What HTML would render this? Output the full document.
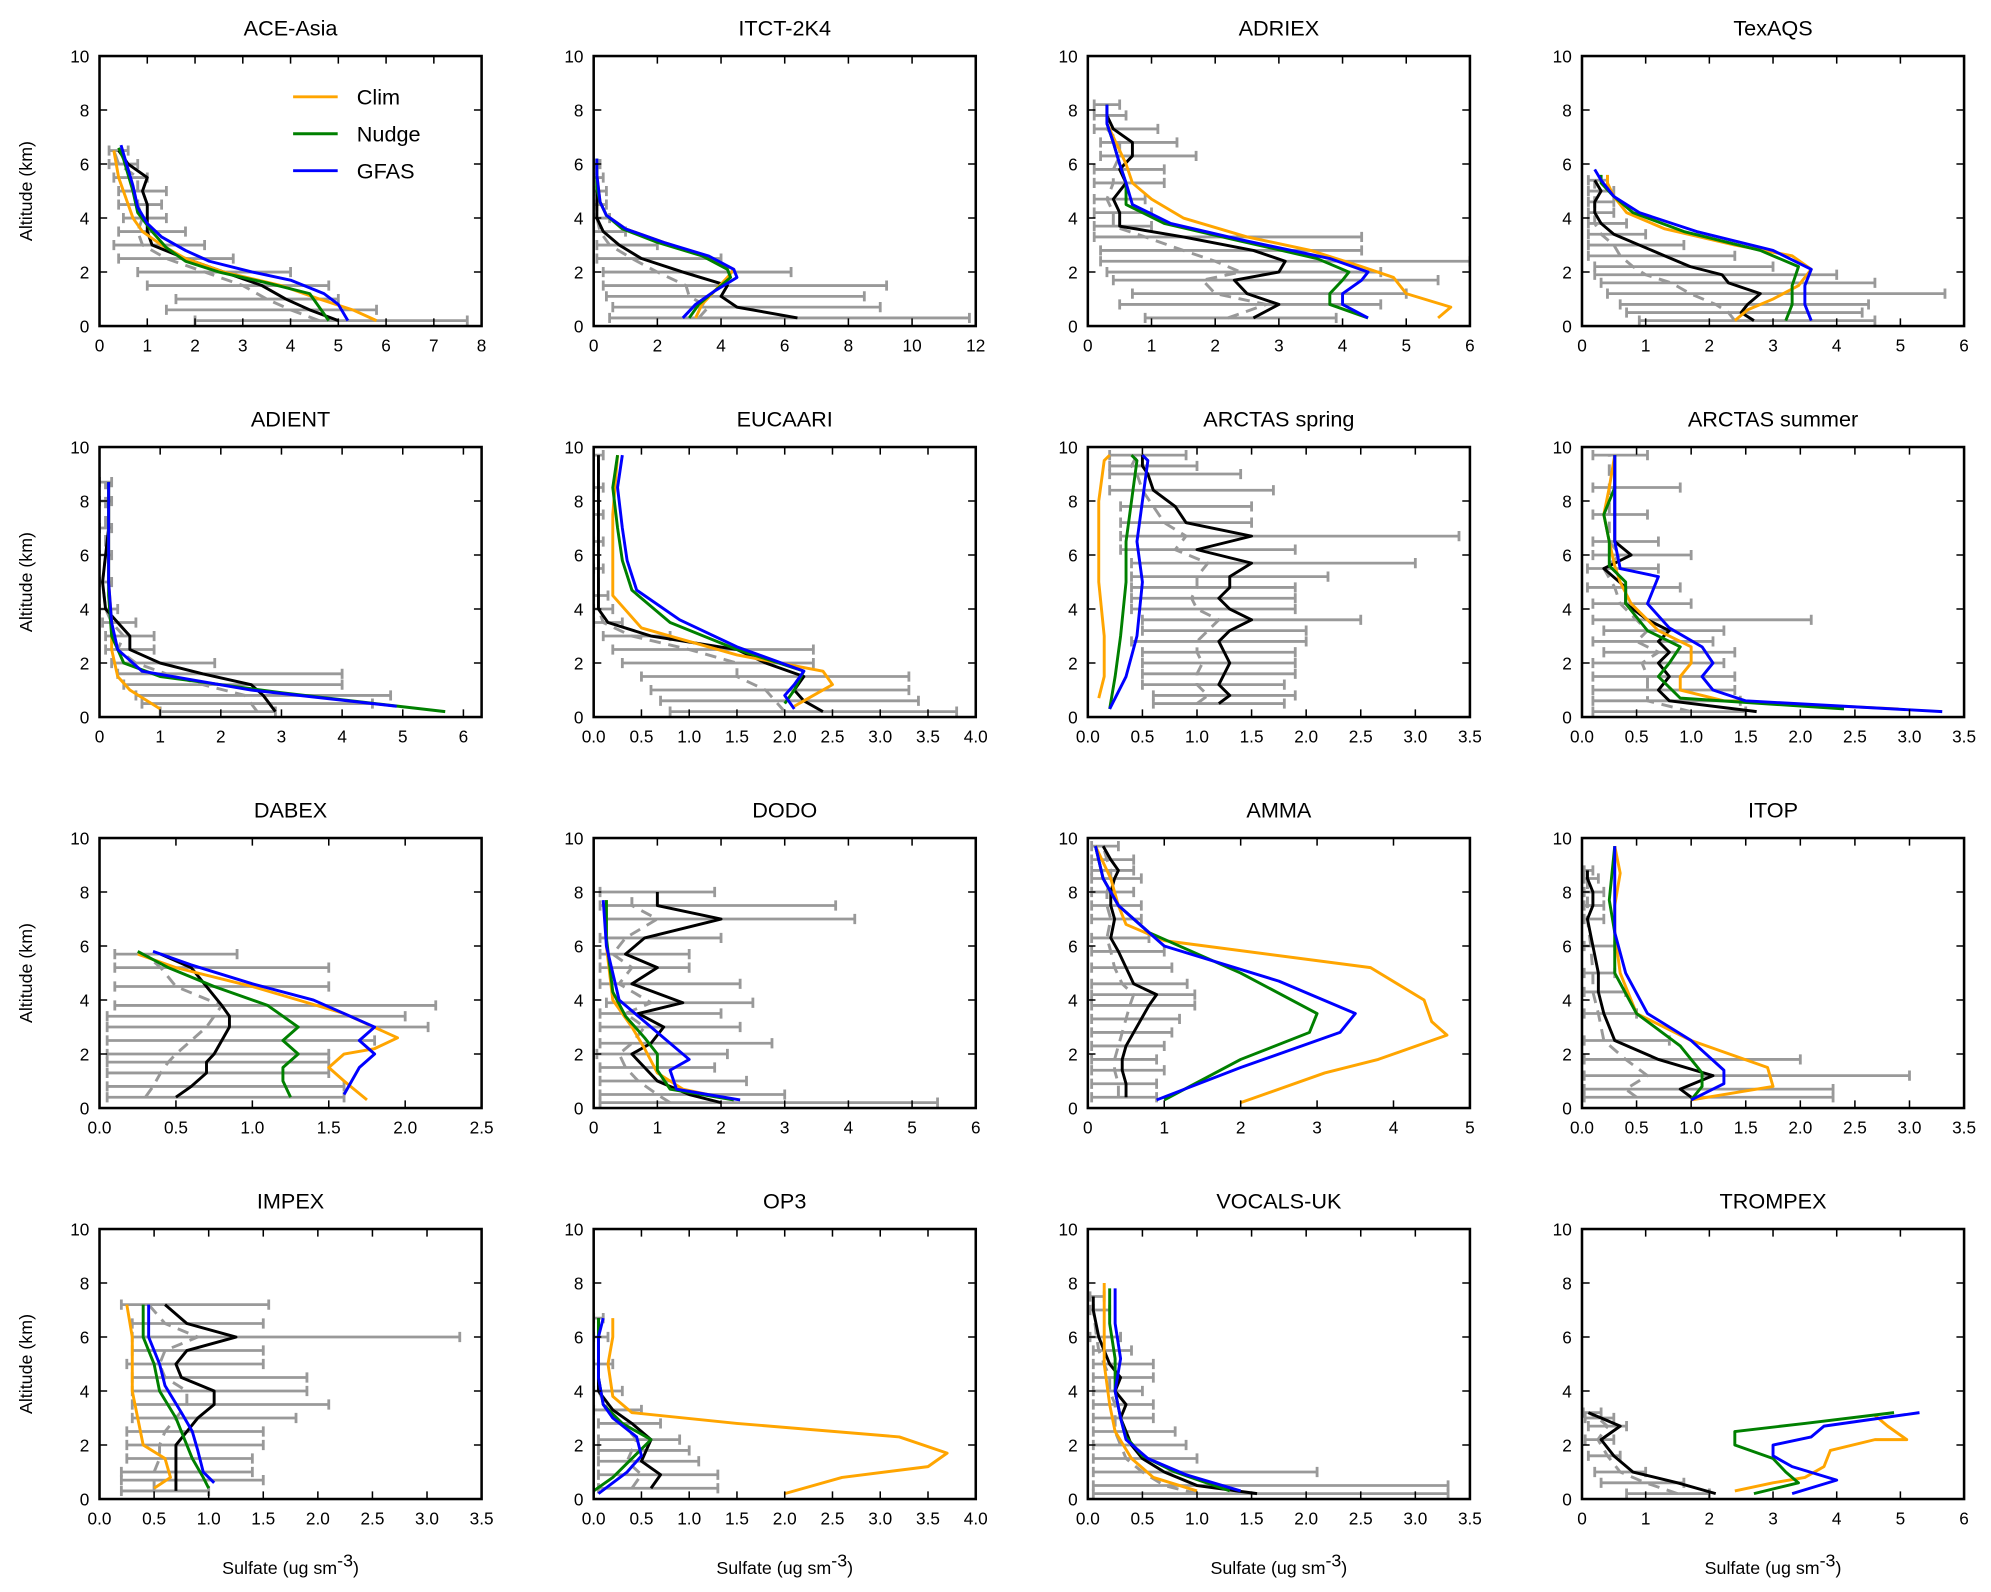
<!DOCTYPE html>
<html><head><meta charset="utf-8"><style>
html,body{margin:0;padding:0;background:#fff;}
svg{display:block;font-family:"Liberation Sans","DejaVu Sans",sans-serif;}
</style></head><body>
<svg id="chart" xmlns="http://www.w3.org/2000/svg" width="1991" height="1592" viewBox="0 0 1563 1250"></svg>
<script>
// ---- data (x = sulfate ug sm-3, alt = km) ----
const titles=["ACE-Asia","ITCT-2K4","ADRIEX","TexAQS","ADIENT","EUCAARI","ARCTAS spring","ARCTAS summer","DABEX","DODO","AMMA","ITOP","IMPEX","OP3","VOCALS-UK","TROMPEX"];
const xMaxes=[8,12,6,6,6.3,4,3.5,3.5,2.5,6,5,3.5,3.5,4,3.5,6];
const xTickSteps=[1,2,1,1,1,0.5,0.5,0.5,0.5,1,1,0.5,0.5,0.5,0.5,1];

const obsAlt=[
[0.2,0.6,1.0,1.5,2.0,2.5,3.0,3.5,4.0,4.5,5.0,5.5,6.0,6.5],
[0.3,0.7,1.1,1.5,2.0,2.5,3.0,3.5,4.0,4.5,5.0,5.5,6.0],
[0.3,0.8,1.2,1.7,2.0,2.4,2.8,3.3,3.7,4.2,4.7,5.3,5.8,6.3,6.8,7.3,7.8,8.2],
[0.2,0.5,0.8,1.2,1.6,1.9,2.2,2.6,3.0,3.4,3.8,4.2,4.6,5.0,5.4],
[0.2,0.5,0.8,1.2,1.6,2.0,2.5,3.0,3.5,4.0,5.0,6.0,7.0,8.0,8.7],
[0.2,0.6,1.0,1.5,2.0,2.5,3.0,3.5,4.0,4.5,5.5,6.5,7.5,8.5,9.7],
[0.5,0.8,1.2,1.6,2.0,2.4,2.8,3.2,3.6,4.0,4.4,4.8,5.2,5.7,6.2,6.7,7.2,7.8,8.4,9.0,9.3,9.7],
[0.2,0.6,1.0,1.5,2.0,2.4,2.8,3.2,3.6,4.2,4.8,5.5,6.0,6.5,7.5,8.5,9.7],
[0.4,0.8,1.3,1.7,2.0,2.5,3.0,3.4,3.8,4.5,5.2,5.7],
[0.2,0.5,1.0,1.5,2.0,2.4,3.0,3.5,3.9,4.6,5.2,5.7,6.3,7.0,7.5,8.0],
[0.4,0.9,1.4,1.8,2.3,2.8,3.3,3.8,4.2,4.6,5.2,5.8,6.3,7.0,7.5,8.0,8.5,8.8,9.2,9.7],
[0.4,0.7,1.2,1.8,2.5,3.5,4.3,5.0,6.0,7.0,7.5,8.0,8.5,8.8],
[0.3,0.7,1.0,1.5,2.0,2.5,3.0,3.5,4.0,4.5,5.0,5.5,6.0,6.5,7.2],
[0.4,0.9,1.4,1.8,2.2,2.8,3.3,4.0,5.0,6.0,6.7],
[0.2,0.5,1.0,1.5,2.0,2.5,3.0,3.5,4.0,4.5,5.0,5.5,6.0,7.0,7.5],
[0.2,0.6,1.0,1.6,2.2,2.7,3.0,3.2]];
const obsMean=[
[5.0,4.4,3.9,3.4,2.6,1.8,1.1,1.0,1.0,1.0,0.9,1.0,0.6,0.4],
[6.4,4.5,4.0,4.2,2.8,1.5,0.8,0.3,0.1,0.1,0.1,0.1,0.1],
[2.6,3.0,2.5,2.3,3.0,3.1,2.6,1.5,0.5,0.5,0.4,0.6,0.5,0.7,0.7,0.4,0.3,0.3],
[2.7,2.5,2.6,2.8,2.3,2.2,1.7,1.3,0.9,0.5,0.3,0.2,0.2,0.3,0.2],
[2.9,2.8,2.7,2.5,1.7,1.0,0.5,0.5,0.3,0.1,0.05,0.1,0.15,0.15,0.15],
[2.4,2.2,2.1,2.2,1.8,1.5,0.6,0.15,0.05,0.05,0.05,0.05,0.05,0.05,0.05],
[1.2,1.3,1.2,1.25,1.3,1.25,1.2,1.3,1.5,1.3,1.2,1.3,1.3,1.5,1.0,1.5,0.9,0.8,0.6,0.55,0.5,0.5],
[1.6,0.8,0.7,0.8,0.7,0.8,0.7,0.8,0.6,0.4,0.4,0.2,0.45,0.3,0.3,0.3,0.3],
[0.5,0.6,0.7,0.7,0.75,0.8,0.85,0.85,0.8,0.7,0.6,0.4],
[2.0,1.5,1.0,0.8,0.6,0.9,1.1,0.7,1.4,0.6,1.0,0.5,0.8,2.0,1.0,1.0],
[0.5,0.5,0.45,0.45,0.5,0.6,0.7,0.8,0.9,0.6,0.5,0.4,0.3,0.35,0.3,0.3,0.35,0.4,0.3,0.2],
[1.0,0.9,1.2,0.7,0.3,0.2,0.15,0.15,0.1,0.05,0.1,0.1,0.05,0.05],
[0.7,0.7,0.7,0.7,0.7,0.8,0.9,1.05,1.05,0.75,0.7,0.8,1.25,0.8,0.6],
[0.6,0.7,0.5,0.55,0.6,0.4,0.2,0.05,0.05,0.05,0.05],
[1.55,1.0,0.7,0.5,0.4,0.35,0.3,0.35,0.25,0.3,0.2,0.15,0.1,0.05,0.05],
[2.1,1.5,0.8,0.5,0.3,0.6,0.3,0.1]];
const obsMedian=[
[4.6,4.0,3.5,3.0,2.2,1.4,0.9,0.8,0.9,0.8,0.8,0.8,0.4,0.3],
[3.3,3.6,3.0,2.9,2.0,1.2,0.5,0.2,0.1,0.1,0.1,0.1,0.1],
[2.2,2.8,2.0,1.8,2.4,2.0,1.5,0.9,0.4,0.4,0.3,0.4,0.4,0.5,0.5,0.3,0.3,0.3],
[2.4,2.3,2.1,1.7,1.4,1.0,0.8,0.6,0.5,0.3,0.2,0.2,0.2,0.2,0.2],
[2.6,2.5,2.4,1.7,1.1,0.6,0.3,0.4,0.2,0.1,0.05,0.1,0.1,0.1,0.1],
[2.0,1.9,1.8,1.5,1.5,1.0,0.4,0.1,0.05,0.05,0.05,0.05,0.05,0.05,0.05],
[1.0,1.1,1.0,1.0,1.05,1.0,1.0,1.1,1.2,1.0,0.95,1.0,1.0,1.1,0.8,0.9,0.7,0.6,0.5,0.45,0.4,0.45],
[1.0,0.6,0.6,0.6,0.55,0.7,0.5,0.6,0.5,0.35,0.3,0.2,0.35,0.25,0.25,0.25,0.25],
[0.3,0.35,0.4,0.45,0.5,0.6,0.7,0.75,0.8,0.5,0.4,0.3],
[1.2,1.0,0.7,0.5,0.4,0.6,0.8,0.5,0.9,0.4,0.6,0.3,0.5,1.0,0.6,0.6],
[0.4,0.4,0.35,0.35,0.4,0.45,0.5,0.55,0.6,0.45,0.35,0.3,0.25,0.3,0.25,0.25,0.3,0.3,0.25,0.2],
[0.5,0.4,0.6,0.4,0.2,0.15,0.1,0.1,0.08,0.05,0.05,0.05,0.05,0.05],
[0.5,0.5,0.5,0.55,0.55,0.6,0.7,0.8,0.8,0.6,0.55,0.6,0.9,0.6,0.45],
[0.4,0.5,0.35,0.4,0.45,0.3,0.15,0.05,0.05,0.05,0.05],
[1.0,0.7,0.5,0.35,0.3,0.25,0.25,0.25,0.2,0.2,0.15,0.1,0.08,0.05,0.05],
[1.5,1.0,0.6,0.4,0.25,0.4,0.25,0.1]];
const obsLo=[
[2.0,1.4,1.6,1.0,0.8,0.4,0.3,0.4,0.5,0.4,0.4,0.3,0.2,0.2],
[0.5,0.6,0.4,0.3,0.3,0.1,0.1,0,0,0,0,0,0],
[0.9,0.5,0.7,0.4,0.3,0.2,0.2,0.1,0.1,0.1,0.1,0.1,0.1,0.2,0.2,0.1,0.1,0.1],
[0.9,0.7,0.6,0.4,0.3,0.2,0.2,0.1,0.1,0.1,0.1,0.1,0.1,0.1,0.1],
[1.0,0.7,0.6,0.4,0.3,0.2,0.1,0.1,0.05,0,0,0,0,0,0],
[0.8,0.7,0.6,0.5,0.3,0.2,0.1,0,0,0,0,0,0,0,0],
[0.6,0.6,0.5,0.5,0.5,0.5,0.4,0.5,0.5,0.4,0.4,0.4,0.4,0.4,0.3,0.3,0.3,0.3,0.2,0.2,0.2,0.2],
[0.1,0.1,0.1,0.1,0.1,0.2,0.1,0.2,0.1,0.1,0.05,0.05,0.1,0.1,0.1,0.1,0.1],
[0.05,0.05,0.05,0.05,0.05,0.05,0.05,0.05,0.1,0.1,0.1,0.1],
[0.1,0.1,0.1,0.1,0.05,0.1,0.1,0.1,0.2,0.1,0.1,0.1,0.1,0.2,0.1,0.1],
[0.05,0.05,0.05,0.05,0.05,0.05,0.05,0.05,0.05,0.05,0.05,0.05,0.05,0.05,0.05,0.05,0.05,0.05,0.05,0.05],
[0.02,0.02,0.02,0.02,0.02,0.02,0.02,0.02,0.02,0.02,0.02,0.02,0.02,0.02],
[0.2,0.2,0.2,0.25,0.25,0.25,0.3,0.3,0.3,0.3,0.25,0.3,0.3,0.3,0.2],
[0.05,0.05,0.05,0.05,0.05,0.05,0,0,0,0,0],
[0.05,0.05,0.05,0.05,0.05,0.05,0.05,0.05,0.05,0.05,0.05,0.05,0.02,0.02,0.02],
[0.7,0.3,0.2,0.1,0.05,0.1,0.05,0.02]];
const obsHi=[
[7.7,5.8,5.0,4.8,4.0,2.8,2.2,1.8,1.4,1.3,1.4,1.0,0.8,0.6],
[11.8,9.0,8.5,9.2,6.2,4.0,2.0,1.0,0.5,0.4,0.4,0.3,0.2],
[3.9,4.6,5.0,5.5,4.6,6.0,4.3,4.3,1.0,1.0,0.9,1.2,1.2,1.7,1.4,1.1,0.6,0.5],
[4.6,4.4,4.5,5.7,4.6,4.0,3.0,2.4,1.6,1.0,0.7,0.5,0.5,0.5,0.4],
[2.9,4.5,4.8,4.0,4.0,1.9,0.9,0.9,0.6,0.3,0.2,0.2,0.2,0.2,0.2],
[3.8,3.4,3.3,3.3,2.3,2.3,0.8,0.3,0.2,0.15,0.1,0.1,0.1,0.1,0.1],
[1.8,1.9,1.8,1.9,1.9,1.9,2.0,2.0,2.5,1.9,1.9,1.9,2.2,3.0,1.9,3.4,1.5,1.5,1.7,1.4,1.0,0.9],
[1.5,1.45,1.4,1.4,1.3,1.4,1.2,1.3,2.1,1.0,0.9,0.7,1.0,0.7,0.6,0.9,0.6],
[1.6,1.6,1.5,1.5,1.5,1.8,2.15,2.0,2.2,1.5,1.5,0.9],
[5.4,3.0,2.4,1.9,2.1,2.8,2.3,2.0,2.5,2.3,1.5,1.5,2.0,4.1,3.8,1.9],
[0.9,0.9,1.0,0.9,1.0,1.1,1.2,1.4,1.4,1.3,1.1,1.0,0.8,0.7,0.7,0.6,0.7,0.6,0.6,0.4],
[2.3,2.3,3.0,2.0,0.8,0.5,0.4,0.3,0.3,0.2,0.2,0.2,0.15,0.1],
[1.0,1.5,1.4,1.4,1.5,1.5,1.8,2.1,1.9,1.9,1.5,1.5,3.3,1.5,1.55],
[1.3,1.3,1.1,1.0,0.9,0.7,0.5,0.3,0.2,0.15,0.1],
[3.3,3.3,2.1,1.0,0.9,0.8,0.6,0.6,0.5,0.6,0.6,0.4,0.3,0.2,0.15],
[2.0,1.6,1.0,0.6,0.5,0.7,0.5,0.3]];
// model series as [sulfate, altitude] pairs
const climSeries=[
[[5.8,0.2],[5.3,0.6],[4.6,1.0],[3.8,1.5],[2.6,2.0],[1.8,2.5],[1.3,3.0],[0.9,3.5],[0.7,4.0],[0.6,4.5],[0.5,5.0],[0.4,5.5],[0.35,6.0],[0.3,6.5]],
[[3.2,0.3],[3.4,0.8],[3.8,1.3],[4.2,1.8],[4.4,2.1],[3.5,2.6],[2.2,3.1],[1.0,3.6],[0.4,4.1],[0.2,4.6],[0.15,5.1],[0.1,5.6],[0.1,6.2]],
[[5.5,0.3],[5.7,0.7],[5.0,1.2],[4.8,1.8],[4.3,2.2],[3.5,2.8],[2.5,3.3],[1.5,4.0],[1.0,4.7],[0.7,5.3],[0.6,6.0],[0.4,7.0],[0.3,7.5],[0.3,8.2]],
[[2.4,0.2],[2.6,0.6],[3.0,1.0],[3.4,1.5],[3.6,2.1],[3.3,2.6],[2.4,3.0],[1.3,3.6],[0.7,4.2],[0.5,4.8],[0.4,5.3],[0.4,5.6]],
[[1.0,0.3],[0.5,1.0],[0.3,1.5],[0.2,2.5],[0.2,3.5],[0.15,5],[0.15,7],[0.15,8.7]],
[[2.1,0.4],[2.3,0.8],[2.5,1.2],[2.4,1.7],[1.5,2.3],[0.5,3.3],[0.2,4.5],[0.2,6],[0.2,7.5],[0.25,9.7]],
[[0.1,0.7],[0.15,1.5],[0.15,3],[0.1,5],[0.1,6.5],[0.1,8],[0.15,9.5],[0.2,9.7]],
[[2.9,0.3],[1.3,0.6],[0.9,1.0],[0.9,1.5],[1.0,2.0],[1.0,2.6],[0.7,3.2],[0.45,4.2],[0.35,5],[0.3,5.6],[0.25,6.5],[0.2,7.5],[0.25,8.5],[0.3,9.7]],
[[1.75,0.3],[1.6,1.0],[1.5,1.5],[1.6,2.0],[1.8,2.2],[1.95,2.6],[1.6,3.5],[1.0,4.5],[0.5,5.2],[0.25,5.7]],
[[2.2,0.3],[1.4,0.7],[1.0,1.3],[0.8,2.2],[0.6,3.0],[0.3,4.0],[0.25,5.0],[0.2,6.0],[0.2,7.0],[0.2,7.7]],
[[2.0,0.2],[3.1,1.3],[3.8,1.8],[4.7,2.7],[4.5,3.2],[4.4,4.0],[3.7,5.2],[1.0,6.2],[0.5,6.8],[0.4,7.5],[0.3,8.5],[0.1,9.7]],
[[1.0,0.3],[1.75,0.8],[1.7,1.5],[1.0,2.5],[0.5,3.5],[0.35,5],[0.3,6.5],[0.3,7.5],[0.35,8.7],[0.3,9.7]],
[[0.5,0.4],[0.65,0.8],[0.6,1.5],[0.4,2.0],[0.35,3],[0.3,4],[0.3,5],[0.3,6],[0.25,7.2]],
[[2.0,0.2],[2.6,0.8],[3.5,1.2],[3.7,1.7],[3.2,2.3],[1.5,2.8],[0.4,3.2],[0.2,3.8],[0.15,5],[0.2,6],[0.2,6.7]],
[[1.0,0.3],[0.6,0.8],[0.4,1.5],[0.25,2.5],[0.2,3.5],[0.15,5],[0.15,6.5],[0.15,8.0]],
[[2.4,0.3],[3.0,0.6],[3.5,0.8],[3.8,1.2],[3.9,1.8],[4.6,2.2],[5.1,2.2],[4.8,2.7],[4.6,3.1]]];
const nudgeSeries=[
[[4.8,0.2],[4.6,0.7],[4.4,1.2],[3.5,1.6],[2.5,2.0],[1.8,2.4],[1.4,2.9],[1.1,3.5],[0.8,4.2],[0.7,5.0],[0.6,5.6],[0.5,6.2],[0.4,6.6]],
[[3.0,0.3],[3.3,0.8],[3.8,1.3],[4.3,1.8],[4.2,2.1],[3.4,2.6],[2.0,3.1],[0.9,3.6],[0.4,4.1],[0.2,4.6],[0.1,5.1],[0.1,5.6],[0.1,6.2]],
[[4.4,0.3],[3.8,0.8],[3.8,1.2],[4.0,1.7],[4.1,2.0],[3.6,2.5],[2.3,3.2],[1.2,3.8],[0.6,4.5],[0.6,5.3],[0.5,6.0],[0.4,6.8],[0.3,7.5],[0.3,8.2]],
[[3.2,0.2],[3.3,0.8],[3.3,1.5],[3.4,2.2],[2.8,2.8],[1.6,3.5],[0.8,4.2],[0.5,4.8],[0.3,5.3],[0.3,5.6]],
[[5.7,0.2],[3.0,0.9],[1.0,1.5],[0.4,2.0],[0.2,3],[0.15,4.5],[0.15,6],[0.15,8.7]],
[[2.0,0.5],[2.1,1.0],[2.2,1.7],[1.5,2.5],[0.8,3.5],[0.4,4.7],[0.3,5.8],[0.25,7],[0.2,8.5],[0.25,9.7]],
[[0.2,0.3],[0.25,1.5],[0.3,3],[0.35,5],[0.35,6.5],[0.4,8],[0.45,9.5],[0.4,9.7]],
[[2.4,0.3],[0.9,0.7],[0.7,1.5],[0.8,2.0],[0.9,2.6],[0.6,3.2],[0.4,4.2],[0.4,5.0],[0.25,5.6],[0.25,6.5],[0.2,7.5],[0.3,8.5],[0.3,9.7]],
[[1.25,0.4],[1.2,1.0],[1.2,1.5],[1.3,2.0],[1.2,2.5],[1.3,3.0],[1.1,3.8],[0.75,4.5],[0.45,5.2],[0.25,5.8]],
[[2.2,0.3],[1.2,0.7],[1.0,1.4],[1.0,2.0],[0.8,2.6],[0.5,3.4],[0.3,4.3],[0.25,5.3],[0.2,6.3],[0.2,7.7]],
[[1.0,0.3],[2.0,1.8],[2.9,2.8],[3.0,3.5],[2.0,5.0],[0.8,6.5],[0.4,7.5],[0.2,8.5],[0.1,9.7]],
[[1.0,0.3],[1.1,0.8],[1.1,1.3],[0.9,2.3],[0.5,3.5],[0.3,5],[0.3,6.5],[0.25,7.7],[0.3,9.7]],
[[1.0,0.4],[0.95,0.8],[0.85,1.5],[0.8,2.0],[0.7,3.0],[0.55,4],[0.5,5],[0.4,6],[0.4,7.2]],
[[0.0,0.3],[0.2,0.8],[0.4,1.5],[0.6,2.2],[0.3,2.8],[0.1,3.5],[0.05,4.5],[0.05,6],[0.05,6.7]],
[[1.3,0.3],[0.8,1.0],[0.5,1.6],[0.35,2.3],[0.3,3.0],[0.25,4.0],[0.25,5.2],[0.2,6.5],[0.2,7.8]],
[[2.7,0.2],[3.4,0.6],[3.2,1.0],[3.0,1.5],[2.4,2.0],[2.4,2.5],[3.5,2.8],[4.9,3.2]]];
const gfasSeries=[
[[5.2,0.2],[5.0,0.8],[4.7,1.2],[4.0,1.7],[3.2,2.0],[2.3,2.4],[1.8,2.8],[1.3,3.3],[1.0,3.8],[0.8,4.4],[0.7,5.2],[0.6,5.8],[0.5,6.4],[0.45,6.7]],
[[2.8,0.3],[3.2,0.8],[3.8,1.3],[4.5,1.8],[4.4,2.1],[3.6,2.6],[2.2,3.1],[1.0,3.6],[0.4,4.1],[0.2,4.6],[0.15,5.1],[0.1,5.6],[0.1,6.2]],
[[4.4,0.3],[4.0,0.8],[4.0,1.2],[4.3,1.7],[4.4,2.0],[3.8,2.5],[2.4,3.2],[1.3,3.8],[0.7,4.5],[0.6,5.3],[0.5,6.0],[0.4,6.8],[0.3,7.5],[0.3,8.2]],
[[3.6,0.2],[3.5,0.8],[3.5,1.5],[3.6,2.1],[3.0,2.8],[1.8,3.5],[0.9,4.2],[0.5,4.8],[0.3,5.4],[0.2,5.8]],
[[4.9,0.4],[2.5,1.0],[0.7,1.7],[0.3,2.5],[0.2,3.5],[0.15,5],[0.15,7],[0.15,8.7]],
[[2.1,0.3],[2.0,0.8],[2.1,1.2],[2.2,1.7],[1.5,2.6],[0.9,3.6],[0.45,4.7],[0.35,5.8],[0.3,7],[0.25,8.5],[0.3,9.7]],
[[0.2,0.3],[0.35,1.5],[0.45,3],[0.5,5],[0.45,6.5],[0.5,8],[0.55,9.5],[0.5,9.7]],
[[3.3,0.2],[1.5,0.6],[1.2,1.0],[1.1,1.5],[1.2,2.0],[1.1,2.6],[0.8,3.3],[0.6,4.2],[0.7,5.2],[0.35,5.5],[0.3,6.5],[0.3,7.5],[0.3,8.5],[0.3,9.7]],
[[1.6,0.5],[1.65,1.0],[1.7,1.5],[1.8,2.0],[1.7,2.5],[1.8,3.0],[1.4,4.0],[1.0,4.6],[0.6,5.3],[0.35,5.8]],
[[2.3,0.3],[1.3,0.7],[1.2,1.4],[1.5,1.8],[1.2,2.4],[0.8,3.2],[0.4,4.0],[0.3,5.0],[0.2,6.0],[0.15,7.7]],
[[0.9,0.3],[2.0,1.5],[3.3,2.8],[3.5,3.5],[2.5,4.7],[1.0,6.0],[0.4,7.5],[0.2,8.5],[0.1,9.7]],
[[1.0,0.3],[1.3,0.9],[1.3,1.4],[1.0,2.5],[0.6,3.5],[0.4,5],[0.3,6.5],[0.3,7.7],[0.3,9.7]],
[[1.05,0.6],[0.95,1.0],[0.9,1.8],[0.85,2.5],[0.75,3.2],[0.6,4.2],[0.55,5],[0.45,6],[0.45,7.2]],
[[0.05,0.2],[0.35,1.0],[0.5,1.6],[0.45,2.3],[0.2,3.0],[0.1,3.5],[0.05,4.5],[0.05,6],[0.1,6.7]],
[[1.4,0.3],[0.9,0.9],[0.55,1.5],[0.35,2.2],[0.3,3.0],[0.25,4.0],[0.3,5.2],[0.25,6.5],[0.25,7.8]],
[[3.3,0.2],[4.0,0.7],[3.3,1.2],[3.0,1.6],[3.0,2.0],[3.6,2.3],[3.8,2.7],[5.3,3.2]]];
const yTicks=[0,2,4,6,8,10];

// ---- drawing ----
const NS="http://www.w3.org/2000/svg";
const svg=document.getElementById('chart');
function mk(tag,attrs,parent){const e=document.createElementNS(NS,tag);for(const k in attrs)e.setAttribute(k,attrs[k]);(parent||svg).appendChild(e);return e;}
const colLeft=[78,466,854,1242], rowTop=[44,351,658,965], PW=300, PH=212;
const slug=s=>s.toLowerCase().replace(/[^a-z0-9]+/g,'-').replace(/-$/,'');
titles.forEach((t,i)=>{
  const L=colLeft[i%4], T=rowTop[Math.floor(i/4)], xm=xMaxes[i];
  const sx=v=>L+v/xm*PW, sy=a=>T+PH-a/10*PH;
  const g=mk('g',{});
  
  
  const clip='clip'+i;
  const cp=mk('clipPath',{id:clip},g); mk('rect',{x:L,y:T,width:PW,height:PH},cp);
  const data=mk('g',{'clip-path':'url(#'+clip+')'},g);
  // error bars
  obsAlt[i].forEach((a,j)=>{
    const y=sy(a), x1=sx(obsLo[i][j]), x2=sx(obsHi[i][j]);
    const e=mk('path',{d:`M${x1},${y}H${x2}M${x1},${y-4}V${y+4}M${x2},${y-4}V${y+4}`,stroke:'#999',"stroke-width":2.2,fill:'none'},data);
    
    
  });
  const line=(pts,color,name,dash)=>{
    const p=mk('polyline',{points:pts.map(q=>sx(q[0])+','+sy(q[1])).join(' '),fill:'none',stroke:color,'stroke-width':2.3,'stroke-linejoin':'round'},data);
    if(dash)p.setAttribute('stroke-dasharray',dash);
    
    
  };
  line(obsAlt[i].map((a,j)=>[obsMedian[i][j],a]),'#999','obs-median-line','9,6');
  line(obsAlt[i].map((a,j)=>[obsMean[i][j],a]),'#000','obs-mean-line');
  line(climSeries[i],'#FFA500','clim-line');
  line(nudgeSeries[i],'#008000','nudge-line');
  line(gfasSeries[i],'#0000FF','gfas-line');
  // frame
  mk('rect',{x:L,y:T,width:PW,height:PH,fill:'none',stroke:'#000','stroke-width':2},g);
  // ticks
  const st=xTickSteps[i], n=Math.round(Math.floor(xm/st+1e-9));
  for(let k=0;k<=n;k++){
    const v=k*st, x=sx(v);
    mk('path',{d:`M${x},${T+PH}v-6M${x},${T}v6`,stroke:'#000','stroke-width':1.2},g);
    const tx=mk('text',{x:x,y:T+PH+20,'text-anchor':'middle','font-size':13.5},g);
    tx.textContent=st<1?v.toFixed(1):String(v);
    
    
  }
  yTicks.forEach(v=>{
    const y=sy(v);
    mk('path',{d:`M${L},${y}h6M${L+PW},${y}h-6`,stroke:'#000','stroke-width':1.2},g);
    const ty=mk('text',{x:L-8,y:y+5,'text-anchor':'end','font-size':13.5},g);
    ty.textContent=v;
    
    
  });
  const tt=mk('text',{x:L+PW/2,y:T-16,'text-anchor':'middle','font-size':17},g);
  tt.textContent=t;
  
  
  if(i%4===0){
    const yl=mk('text',{x:0,y:0,'text-anchor':'middle','font-size':14,transform:`translate(25,${T+PH/2}) rotate(-90)`},g);
    yl.textContent='Altitude (km)';
    
    
  }
  if(i>=12){
    const xl=mk('text',{x:L+PW/2,y:T+PH+59,'text-anchor':'middle','font-size':14},g);
    xl.innerHTML='Sulfate (ug sm<tspan dy="-6" font-size="14">-3</tspan><tspan dy="6">)</tspan>';
    
    
  }
});
// legend in first panel
const legNames=['Clim','Nudge','GFAS'], legColors=['#FFA500','#008000','#0000FF'];
legNames.forEach((n,k)=>{
  const y=76+k*29;
  const lg=mk('g',{});
  
  
  mk('line',{x1:230,x2:265,y1:y,y2:y,stroke:legColors[k],'stroke-width':2.3},lg);
  const t=mk('text',{x:280,y:y+6,'font-size':17},lg);
  t.textContent=n;
});
</script>
</body></html>
